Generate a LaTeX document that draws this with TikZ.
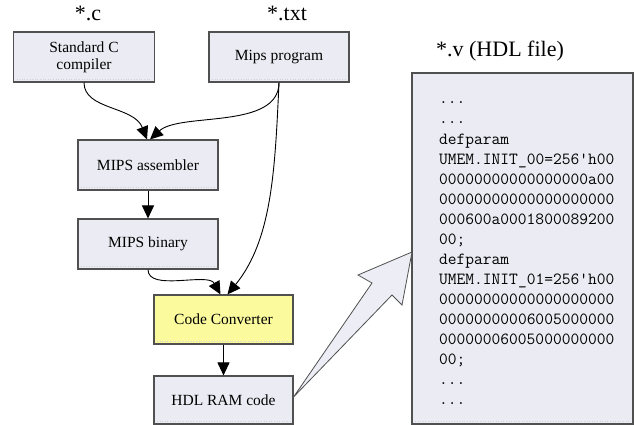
\documentclass[tikz,border=0pt]{standalone}
\usepackage{fontspec}
\setmainfont{Liberation Serif}
\usetikzlibrary{arrows.meta}
\definecolor{boxfill}{HTML}{EBECF3}
\definecolor{boxline}{HTML}{505050}
\definecolor{convfill}{HTML}{FBFB9E}
\definecolor{arrowfill}{HTML}{ECEDF5}
\tikzset{
  stagebox/.style={draw=boxline, line width=1.1pt, fill=boxfill,
    minimum width=140pt, minimum height=50pt, inner sep=2pt,
    align=center, font=\fontsize{15.5}{17}\selectfont,
    path picture={\draw[gray!35, dotted, line width=0.6pt]
      ([xshift=3pt,yshift=3pt]path picture bounding box.south west) --
      ([xshift=-3pt,yshift=3pt]path picture bounding box.south east);}},
  filelabel/.style={font=\fontsize{22}{24}\selectfont, inner sep=0pt, anchor=base},
  flow/.style={draw=black, line width=0.9pt, -{Triangle[length=13pt,width=12pt]}},
  codeline/.style={font=\ttfamily\fontsize{17}{20}\selectfont, inner sep=0pt, anchor=base west},
}
\newcommand\etc{...}
\begin{document}
\begin{tikzpicture}[x=1pt, y=-1pt]
  \useasboundingbox (0,0) rectangle (634,425);
  \fill[white] (0,0) rectangle (634,425);

  % file type labels
  \node[filelabel] (lc) at (88,21) {*.c};
  \node[filelabel] (ltxt) at (287,21) {*.txt};
  \node[filelabel] (lv) at (500,57) {*.v (HDL file)};

  % tool chain stages
  \node[stagebox, minimum width=141pt] (cc) at (84,57) {Standard C\\compiler};
  \node[stagebox] (mp) at (279,57) {Mips program};
  \node[stagebox] (asm) at (148,165) {MIPS assembler};
  \node[stagebox] (bin) at (148,244) {MIPS binary};
  \node[stagebox, fill=convfill, minimum width=139pt, minimum height=49pt] (conv) at (223.5,319.5) {Code Converter};
  \node[stagebox, minimum width=139pt, minimum height=48pt] (ram) at (223.5,400) {HDL RAM code};

  % generated HDL file
  \node[stagebox, minimum width=221pt, minimum height=351pt] (hdl) at (522.5,248.5) {};
  \coordinate (txt) at (439,104);
  \foreach \t [count=\i from 0] in {
      \etc, \etc, defparam, UMEM.INIT\_00=256'h00,
      00000000000000000a00, 00000000000000000000, 000600a0001800089200, 00;,
      defparam, UMEM.INIT\_01=256'h00,
      00000000000000000000, 00000000006005000000, 00000006005000000000, 00;,
      \etc, \etc}
    \node[codeline] (code\i) at ([yshift=-20*\i pt]txt) {\t};

  % connectors
  \draw[flow] (cc.south) .. controls (84,110) and (134,106) .. ([xshift=-1pt]asm.north);
  \draw[flow] (mp.south) .. controls (279,130) and (180,112) .. ([xshift=2pt]asm.north);
  \draw[flow] (mp.south) .. controls (275,170) and (272,240) .. ([xshift=4pt]conv.north);
  \draw[flow] (asm.south) -- (bin.north);
  \draw[flow] (bin.south) .. controls (148,292) and (208,272) .. ([xshift=-3pt]conv.north);
  \draw[flow] (conv.south) -- (ram.north);

  % open block arrow into the HDL file
  \coordinate (tail) at ([yshift=3pt]ram.east);
  \coordinate (tip) at (412,252);
  \draw[boxline, line width=0.8pt, fill=arrowfill, line join=miter]
    (tail) -- (372,283) -- (358,275) -- (tip) -- (402,305) -- (392,295) -- cycle;
\end{tikzpicture}
\end{document}
